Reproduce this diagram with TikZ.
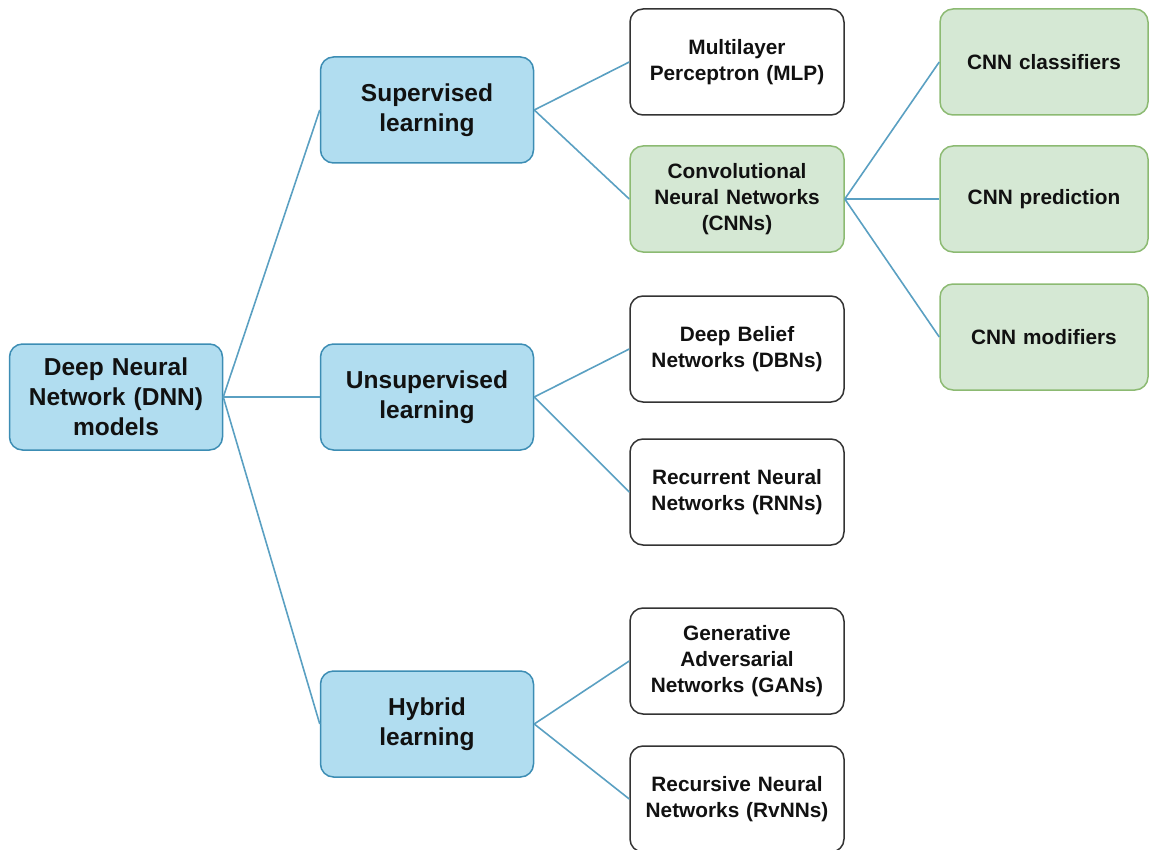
\documentclass[tikz,border=0pt]{standalone}
\usepackage{fontspec}
\setmainfont{Liberation Sans}
\usetikzlibrary{positioning}
\definecolor{ink}{HTML}{111111}
\definecolor{blueFill}{HTML}{B1DDF0}
\definecolor{blueLine}{HTML}{3C8DB4}
\definecolor{greenFill}{HTML}{D5E8D4}
\definecolor{greenLine}{HTML}{8CBA72}
\definecolor{greyLine}{HTML}{333333}
\definecolor{linkC}{HTML}{5AA0C2}
\tikzset{
  catbox/.style={draw=blueLine,fill=blueFill,line width=1.5pt,rounded corners=13pt,
    minimum width=213pt,minimum height=106pt,text width=205pt,align=center,
    font=\fontsize{24.5}{30}\selectfont\bfseries,text=ink,inner sep=0pt},
  leafbox/.style={draw=greyLine,fill=white,line width=1.5pt,rounded corners=13pt,
    minimum width=214pt,minimum height=106pt,text width=205pt,align=center,
    font=\fontsize{20.8}{26}\selectfont\bfseries,text=ink,inner sep=0pt},
  cnnbox/.style={leafbox,draw=greenLine,fill=greenFill},
  link/.style={draw=linkC,line width=1.6pt}}
\begin{document}
\begin{tikzpicture}[x=1pt,y=-1pt]
\path[use as bounding box,clip] (0,0) rectangle (1150,850);
% level 0 and 1
\node[catbox] (dnn) at (116,397) {Deep Neural\\Network (DNN)\\models};
\node[catbox] (sup) at (427,110) {Supervised\\learning};
\node[catbox] (unsup) at (427,397) {Unsupervised\\learning};
\node[catbox] (hyb) at (427,724) {Hybrid\\learning};
% level 2
\node[leafbox] (mlp) at (737,62) {Multilayer\\Perceptron (MLP)};
\node[cnnbox] (cnn) at (737,199) {Convolutional\\Neural Networks\\(CNNs)};
\node[leafbox] (dbn) at (737,349) {Deep Belief\\Networks (DBNs)};
\node[leafbox] (rnn) at (737,492) {Recurrent Neural\\Networks (RNNs)};
\node[leafbox] (gan) at (737,661) {Generative\\Adversarial\\Networks (GANs)};
\node[leafbox] (rvnn) at (737,799) {Recursive Neural\\Networks (RvNNs)};
% level 3
\node[cnnbox,minimum width=208pt] (cls) at (1044,62) {CNN classifiers};
\node[cnnbox,minimum width=208pt] (pred) at (1044,199) {CNN prediction};
\node[cnnbox,minimum width=208pt] (mod) at (1044,337) {CNN modifiers};
% links
\foreach \a/\b in {dnn/sup,dnn/unsup,dnn/hyb,sup/mlp,sup/cnn,unsup/dbn,unsup/rnn,hyb/gan,hyb/rvnn,cnn/cls,cnn/pred,cnn/mod}
  \draw[link] (\a.east) -- (\b.west);
\end{tikzpicture}
\end{document}
